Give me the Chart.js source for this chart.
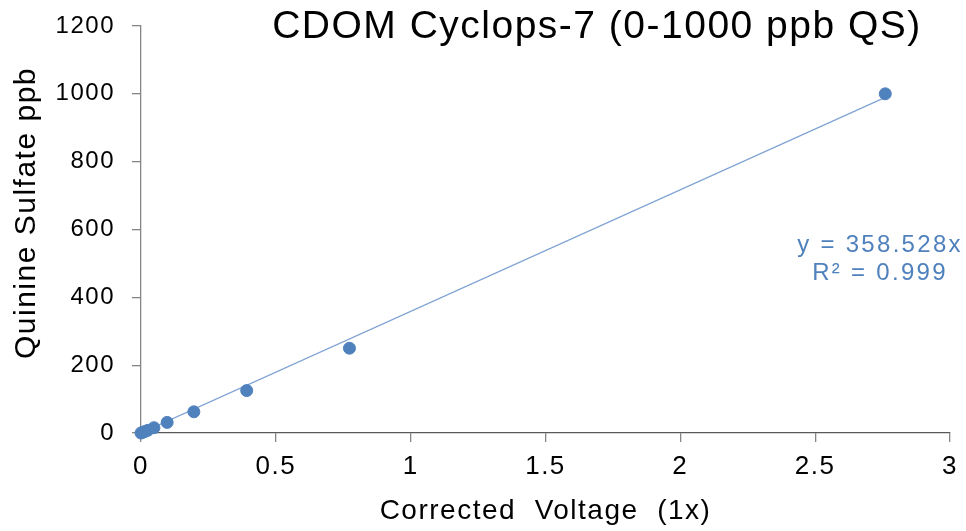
<!DOCTYPE html>
<html>
<head>
<meta charset="utf-8">
<script src="https://cdn.jsdelivr.net/npm/chart.js@4"></script>
<style>
  html, body { margin: 0; padding: 0; background: #fff; }
  #wrap { width: 966px; height: 531px; }
</style>
</head>
<body>
<div id="wrap"><canvas id="calChart" width="966" height="531"></canvas></div>
<script>
// measured standards: corrected voltage vs quinine sulfate ppb
var voltage = [0, 0.006, 0.0125, 0.025, 0.048, 0.097, 0.196, 0.392, 0.773, 2.76];
var ppb = [0, 1.95, 3.9, 7.8, 15.6, 31.25, 62.5, 125, 250, 1000];
// linear fit through zero, drawn between the end points
var fitX = [0, 2.76];
var fitY = [0, 989.5];
var xTicks = [0, 0.5, 1, 1.5, 2, 2.5, 3];
var yTicks = [0, 200, 400, 600, 800, 1000, 1200];

var titleText = "CDOM Cyclops-7 (0-1000 ppb QS)";
var yTitle = "Quinine Sulfate ppb";
var fitLabel = ["y = 358.528x", "R\u00b2 = 0.999"];
var font = "'Liberation Sans', Arial, sans-serif";

// the original's text is set a little wider than plain Arial
var spacing = {
    id: "spacing",
    beforeLayout: function(chart) { chart.ctx.letterSpacing = "1.5px"; },
    beforeDraw: function(chart) { chart.ctx.letterSpacing = "1.5px"; }
};

// title, y title and fit equation placed like the Excel original
var overlayText = {
    id: "overlayText",
    afterDraw: function(chart) {
        var c = chart.ctx;
        c.save();
        c.textAlign = "center";
        c.textBaseline = "alphabetic";
        c.fillStyle = "#000";
        c.letterSpacing = "1.5px";
        c.font = "39px " + font;
        c.fillText(titleText, 597, 38);

        c.save();
        c.translate(35, 213);
        c.rotate(-Math.PI / 2);
        c.font = "30px " + font;
        c.fillText(yTitle, 0, 0);
        c.restore();

        c.fillStyle = "#4F81BD";
        c.letterSpacing = "2.3px";
        c.font = "24px " + font;
        c.fillText(fitLabel[0], 880, 252);
        c.fillText(fitLabel[1], 880, 280);
        c.restore();
    }
};

var ctx = document.getElementById("calChart").getContext("2d");
var calChart = new Chart(ctx, {
    type: "scatter",
    data: {
        datasets: [{
            label: "fit",
            type: "line",
            data: fitX.map(function(v, i) { return { x: v, y: fitY[i] }; }),
            borderColor: "#7FA3D3",
            borderWidth: 1.2,
            pointRadius: 0,
            fill: false,
            order: 2
        }, {
            label: "standards",
            data: voltage.map(function(v, i) { return { x: v, y: ppb[i] }; }),
            backgroundColor: "#4F81BD",
            borderColor: "#4F81BD",
            pointRadius: 6,
            clip: false,
            order: 1
        }]
    },
    options: {
        responsive: false,
        animation: false,
        layout: { padding: { left: 0, right: 16, top: 26, bottom: 0 } },
        plugins: { legend: { display: false }, tooltip: { enabled: false } },
        scales: {
            x: {
                type: "linear",
                min: 0, max: 3,
                afterBuildTicks: function(s) { s.ticks = xTicks.map(function(v) { return { value: v }; }); },
                afterFit: function(s) { s.height = 531 - 433; s.paddingLeft = 0; s.paddingRight = 0; },
                grid: { drawOnChartArea: false, tickLength: 9, color: "#868686", lineWidth: 1.3 },
                border: { color: "#595959", width: 1.3 },
                ticks: {
                    color: "#000", font: { size: 26, family: font }, padding: 9, maxRotation: 0,
                    callback: function(v) { return String(v); }
                },
                title: { display: true, text: "Corrected  Voltage  (1x)", color: "#000", font: { size: 28, family: font }, padding: { top: 0, bottom: 3 } }
            },
            y: {
                type: "linear",
                min: 0, max: 1200,
                afterBuildTicks: function(s) { s.ticks = yTicks.map(function(v) { return { value: v }; }); },
                afterFit: function(s) { s.width = 141; s.paddingTop = 0; s.paddingBottom = 0; },
                grid: { drawOnChartArea: false, tickLength: 9, color: "#868686", lineWidth: 1.3 },
                border: { color: "#868686", width: 1.3 },
                ticks: {
                    color: "#000", font: { size: 24, family: font }, padding: 17,
                    callback: function(v) { return String(v); }
                },
                title: { display: false }
            }
        }
    },
    plugins: [spacing, overlayText]
});
</script>
</body>
</html>
